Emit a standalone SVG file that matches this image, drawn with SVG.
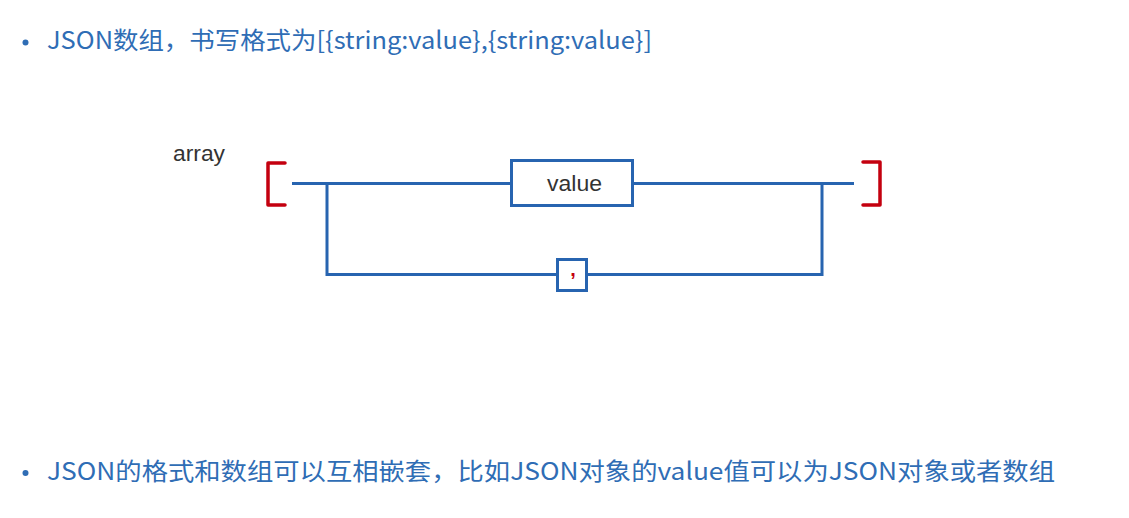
<svg xmlns="http://www.w3.org/2000/svg" width="1129" height="518" viewBox="0 0 1129 518">
<style>
.t{font-family:"Microsoft YaHei","Noto Sans CJK SC","Liberation Sans",sans-serif;font-size:24px;fill:#2f6db5}
.ln{fill:none;stroke:#2764b0;stroke-width:3;stroke-linejoin:miter}
.br{fill:none;stroke:#c4000f;stroke-width:3.5;stroke-linejoin:round;stroke-linecap:round}
.lab{font-family:"Liberation Sans","Noto Sans",sans-serif;font-size:22px;fill:#333}
.bul{fill:#2f6db5}
</style>
<rect width="1129" height="518" fill="#fff"/>
<g id="title">
<circle class="bul" cx="25.5" cy="42.5" r="3"/>
<text class="t" x="47" y="49" textLength="605" lengthAdjust="spacingAndGlyphs">JSON数组，书写格式为[{string:value},{string:value}]</text>
</g>
<g id="array-label">
<text class="lab" x="173" y="161" textLength="52" lengthAdjust="spacingAndGlyphs">array</text>
</g>
<g id="open-bracket">
<path class="br" d="M285,163 H268 V205 H285"/>
</g>
<g id="close-bracket">
<path class="br" d="M863,162 H880 V205 H863"/>
</g>
<g id="connectors">
<path class="ln" d="M292,183.5 H511"/>
<path class="ln" d="M633,183.5 H854"/>
<path class="ln" d="M327,183.5 V274.5 H557"/>
<path class="ln" d="M587,274.5 H822 V183.5"/>
</g>
<g id="value-node">
<rect class="ln" x="511.5" y="160.5" width="121" height="45"/>
<text class="lab" x="574.5" y="191" text-anchor="middle" textLength="55" lengthAdjust="spacingAndGlyphs">value</text>
</g>
<g id="comma-node">
<rect class="ln" x="557.5" y="259.5" width="29" height="31"/>
<text x="573" y="276" text-anchor="middle" font-family="Liberation Sans,sans-serif" font-size="20" font-weight="bold" fill="#c4000f">,</text>
</g>
<g id="note">
<circle class="bul" cx="25.5" cy="473" r="3"/>
<text class="t" x="47" y="480" textLength="1008" lengthAdjust="spacingAndGlyphs">JSON的格式和数组可以互相嵌套，比如JSON对象的value值可以为JSON对象或者数组</text>
</g>
</svg>
